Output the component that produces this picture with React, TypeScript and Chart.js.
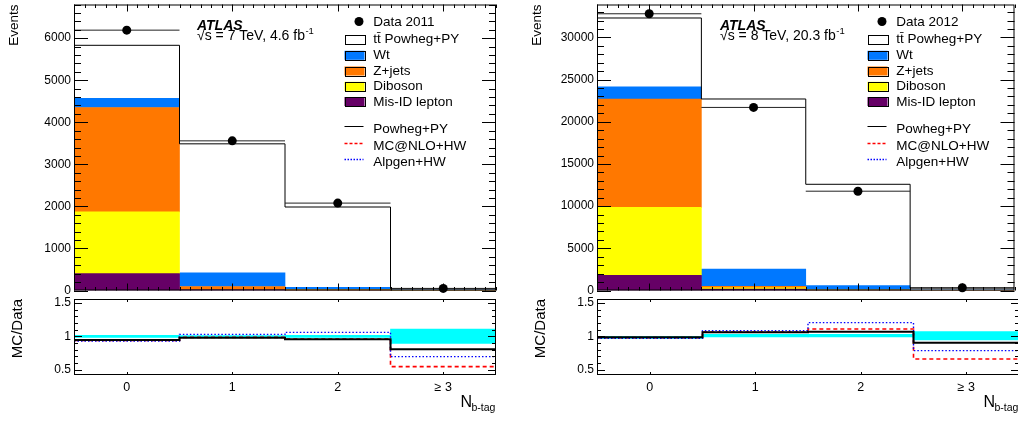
import React, { useEffect, useRef } from 'react';
import { Chart, registerables } from 'chart.js';

Chart.register(...registerables);

const FONT = "'Liberation Sans', Arial, Helvetica, sans-serif";

const binCenters = [0, 1, 2, 3];
const binLabels = ['0', '1', '2', '\u2265 3'];

// 2011, sqrt(s) = 7 TeV
const data2011 = [6190, 3558, 2078, 50];
const ttbar2011 = [1260, 3069, 1907, 31];
const wt2011 = [220, 323, 58, 6];
const zjets2011 = [2480, 65, 10, 1];
const diboson2011 = [1470, 10, 5, 1];
const misid2011 = [400, 20, 5, 1];
const powheg2011 = [0.945, 0.98, 0.955, 0.805];
const mcnlo2011 = [0.94, 0.985, 0.96, 0.545];
const alpgen2011 = [0.93, 1.03, 1.06, 0.695];
const bandLow2011 = [0.985, 0.99, 0.985, 0.895];
const bandHigh2011 = [1.015, 1.01, 1.015, 1.11];
const yTicks2011 = [0, 1000, 2000, 3000, 4000, 5000, 6000];

// 2012, sqrt(s) = 8 TeV
const data2012 = [32800, 21700, 11770, 320];
const ttbar2012 = [8170, 20150, 12000, 250];
const wt2012 = [1450, 2070, 510, 30];
const zjets2012 = [12830, 150, 30, 5];
const diboson2012 = [8050, 150, 20, 2];
const misid2012 = [1800, 180, 30, 3];
const powheg2012 = [0.985, 1.06, 1.07, 0.905];
const mcnlo2012 = [0.98, 1.065, 1.11, 0.66];
const alpgen2012 = [0.97, 1.085, 1.205, 0.785];
const bandLow2012 = [0.97, 0.99, 0.99, 0.945];
const bandHigh2012 = [1.0, 1.03, 1.03, 1.07];
const yTicks2012 = [0, 5000, 10000, 15000, 20000, 25000, 30000];

const ratioTicks = [0.5, 1, 1.5];

const COLORS = {
  ttbar: '#ffffff',
  wt: '#0078ff',
  zjets: '#ff7800',
  diboson: '#ffff00',
  misid: '#660066',
  band: '#00ffff',
};

type Panel = {
  data: number[];
  layers: { name: string; color: string; values: number[] }[];
  powheg: number[];
  mcnlo: number[];
  alpgen: number[];
  bandLow: number[];
  bandHigh: number[];
  yTicks: number[];
  yMax: number;
  yMajor: number;
  yMinor: number;
  dataLabel: string;
  energy: string;
  lumi: string;
};

const panels: Panel[] = [
  {
    data: data2011,
    layers: [
      { name: 'misid', color: COLORS.misid, values: misid2011 },
      { name: 'diboson', color: COLORS.diboson, values: diboson2011 },
      { name: 'zjets', color: COLORS.zjets, values: zjets2011 },
      { name: 'wt', color: COLORS.wt, values: wt2011 },
      { name: 'ttbar', color: COLORS.ttbar, values: ttbar2011 },
    ],
    powheg: powheg2011, mcnlo: mcnlo2011, alpgen: alpgen2011,
    bandLow: bandLow2011, bandHigh: bandHigh2011,
    yTicks: yTicks2011, yMax: 6800, yMajor: 1000, yMinor: 200,
    dataLabel: 'Data 2011', energy: '7', lumi: '4.6',
  },
  {
    data: data2012,
    layers: [
      { name: 'misid', color: COLORS.misid, values: misid2012 },
      { name: 'diboson', color: COLORS.diboson, values: diboson2012 },
      { name: 'zjets', color: COLORS.zjets, values: zjets2012 },
      { name: 'wt', color: COLORS.wt, values: wt2012 },
      { name: 'ttbar', color: COLORS.ttbar, values: ttbar2012 },
    ],
    powheg: powheg2012, mcnlo: mcnlo2012, alpgen: alpgen2012,
    bandLow: bandLow2012, bandHigh: bandHigh2012,
    yTicks: yTicks2012, yMax: 33900, yMajor: 5000, yMinor: 1000,
    dataLabel: 'Data 2012', energy: '8', lumi: '20.3',
  },
];

function stepPoints(vals: number[]) {
  const pts = binCenters.map((c, i) => ({ x: c - 0.5, y: vals[i] }));
  pts.push({ x: binCenters[binCenters.length - 1] + 0.5, y: vals[vals.length - 1] });
  return pts;
}

function xBarPoints(vals: number[]) {
  const pts: { x: number; y: number | null }[] = [];
  vals.forEach((v, i) => {
    pts.push({ x: binCenters[i] - 0.5, y: v }, { x: binCenters[i] + 0.5, y: v }, { x: binCenters[i] + 0.5, y: null });
  });
  return pts;
}

function drawFrame(ctx: CanvasRenderingContext2D, a: any) {
  ctx.strokeRect(a.left + 0.5, a.top + 0.5, a.right - a.left - 1, a.bottom - a.top - 1);
}

function mainDecor(p: Panel) {
  return {
    id: 'mainDecor',
    afterDatasetsDraw(chart: any) {
      const { ctx, chartArea: a } = chart;
      const xs = chart.scales.x;
      const ys = chart.scales.y;
      ctx.save();
      ctx.strokeStyle = '#000';
      ctx.lineWidth = 1;
      ctx.beginPath();
      const nMinor = Math.floor(p.yMax / p.yMinor);
      for (let k = 0; k <= nMinor; k++) {
        const v = k * p.yMinor;
        const y = Math.round(ys.getPixelForValue(v)) + 0.5;
        const major = (v % p.yMajor) === 0;
        const len = major ? 14 : 7;
        ctx.moveTo(a.left, y); ctx.lineTo(a.left + len, y);
        ctx.moveTo(a.right, y); ctx.lineTo(a.right - len, y);
      }
      for (let k = -5; k <= 35; k++) {
        const x = Math.round(xs.getPixelForValue(k / 10)) + 0.5;
        const major = k % 10 === 0;
        const len = major ? 7 : 3.5;
        ctx.moveTo(x, a.bottom); ctx.lineTo(x, a.bottom - len);
        ctx.moveTo(x, a.top); ctx.lineTo(x, a.top + len);
      }
      ctx.stroke();
      drawFrame(ctx, a);
      ctx.restore();
    },
    afterDraw(chart: any) {
      const { ctx, chartArea: a } = chart;
      const L = a.left;
      ctx.save();
      ctx.fillStyle = '#000';
      ctx.strokeStyle = '#000';
      ctx.textAlign = 'left';
      ctx.textBaseline = 'alphabetic';
      // ATLAS label
      ctx.font = `italic bold 14px ${FONT}`;
      ctx.fillText('ATLAS', L + 123, 29.5);
      ctx.font = `14px ${FONT}`;
      const t = `\u221As = ${p.energy} TeV, ${p.lumi} fb`;
      ctx.fillText(t, L + 123, 39.5);
      const w = ctx.measureText(t).width;
      ctx.font = `9.5px ${FONT}`;
      ctx.fillText('-1', L + 123 + w + 0.5, 34);
      // legend
      ctx.font = `13.5px ${FONT}`;
      const tx = L + 299.3;
      const bx = L + 270.5;
      ctx.beginPath();
      ctx.arc(L + 285, 21.5, 4.5, 0, Math.PI * 2);
      ctx.fill();
      ctx.fillText(p.dataLabel, tx, 26);
      const boxes: [string, string, number][] = [
        ['tt\u0304 Powheg+PY', COLORS.ttbar, 43],
        ['Wt', COLORS.wt, 59.3],
        ['Z+jets', COLORS.zjets, 75],
        ['Diboson', COLORS.diboson, 90.3],
        ['Mis-ID lepton', COLORS.misid, 105.5],
      ];
      ctx.lineWidth = 1;
      boxes.forEach(([label, color, base]) => {
        ctx.fillStyle = color;
        ctx.fillRect(bx, base - 8.5, 20, 9);
        ctx.strokeStyle = '#000';
        ctx.strokeRect(Math.round(bx) + 0.5, Math.round(base - 8.5) + 0.5, 20, 9);
        ctx.fillStyle = '#000';
        ctx.fillText(label, tx, base);
      });
      const lines: [string, string, number, number[], number][] = [
        ['Powheg+PY', '#000000', 133.3, [], 1],
        ['MC@NLO+HW', '#ff0000', 150, [3, 2], 1.6],
        ['Alpgen+HW', '#0000ff', 165.7, [1.5, 1.5], 1.5],
      ];
      lines.forEach(([label, color, base, dash, lw]) => {
        ctx.save();
        ctx.strokeStyle = color;
        ctx.lineWidth = lw;
        ctx.setLineDash(dash);
        ctx.beginPath();
        const y = Math.round(base - 7) + 0.5;
        ctx.moveTo(bx, y);
        ctx.lineTo(bx + 19, y);
        ctx.stroke();
        ctx.restore();
        ctx.fillStyle = '#000';
        ctx.fillText(label, tx, base);
      });
      ctx.restore();
    },
  };
}

function ratioDecor() {
  return {
    id: 'ratioDecor',
    afterDatasetsDraw(chart: any) {
      const { ctx, chartArea: a } = chart;
      const xs = chart.scales.x;
      const ys = chart.scales.y;
      ctx.save();
      ctx.strokeStyle = '#000';
      ctx.lineWidth = 1;
      ctx.beginPath();
      for (let k = 5; k <= 15; k++) {
        const y = Math.round(ys.getPixelForValue(k / 10)) + 0.5;
        const major = k % 5 === 0;
        const len = major ? 8 : 4;
        ctx.moveTo(a.left, y); ctx.lineTo(a.left + len, y);
        ctx.moveTo(a.right, y); ctx.lineTo(a.right - len, y);
      }
      binCenters.forEach((c) => {
        const x = Math.round(xs.getPixelForValue(c)) + 0.5;
        ctx.moveTo(x, a.bottom); ctx.lineTo(x, a.bottom - 3);
        ctx.moveTo(x, a.top); ctx.lineTo(x, a.top + 3);
      });
      ctx.stroke();
      drawFrame(ctx, a);
      ctx.restore();
    },
    afterDraw(chart: any) {
      const { ctx, chartArea: a } = chart;
      ctx.save();
      ctx.fillStyle = '#000';
      ctx.textAlign = 'left';
      ctx.textBaseline = 'alphabetic';
      ctx.font = `16px ${FONT}`;
      ctx.fillText('N', a.right - 35.5, 111.5);
      ctx.font = `10.5px ${FONT}`;
      ctx.fillText('b-tag', a.right - 24.5, 116);
      ctx.restore();
    },
  };
}

function binTicks(s: any) {
  s.ticks = binCenters.map((v) => ({ value: v }));
}

function makeMain(canvas: HTMLCanvasElement, p: Panel, padRight: number) {
  let running = p.data.map(() => 0);
  const barSets = p.layers.map((layer) => {
    const lo = running.slice();
    running = running.map((r, i) => r + layer.values[i]);
    const hi = running.slice();
    return {
      type: 'bar' as const,
      label: layer.name,
      data: binCenters.map((c, i) => ({ x: c, y: [lo[i], hi[i]] })),
      backgroundColor: layer.color,
      borderWidth: 0,
      grouped: false,
      barPercentage: 1,
      categoryPercentage: 1,
      order: 10,
    };
  });
  const total = running;
  return new Chart(canvas, {
    type: 'bar',
    data: {
      datasets: [
        ...barSets,
        {
          type: 'line', label: 'mc', data: stepPoints(total), stepped: 'before',
          borderColor: '#000', borderWidth: 1, pointRadius: 0, fill: false, order: 5,
        },
        {
          type: 'line', label: 'dataErr', data: xBarPoints(p.data), spanGaps: false,
          borderColor: '#222', borderWidth: 1, pointRadius: 0, fill: false, order: 2,
        },
        {
          type: 'line', label: 'data', data: p.data.map((y, i) => ({ x: binCenters[i], y })),
          showLine: false, pointRadius: 4.5, pointBackgroundColor: '#000', pointBorderWidth: 0,
          clip: false, order: 1,
        },
      ] as any,
    },
    options: {
      responsive: false,
      animation: false,
      devicePixelRatio: 1,
      events: [],
      layout: { padding: { left: 0, right: padRight, top: 3, bottom: 4 } },
      plugins: { legend: { display: false }, tooltip: { enabled: false } },
      scales: {
        x: {
          type: 'linear', min: -0.5, max: 3.5, offset: false, display: false,
          afterBuildTicks: binTicks,
        },
        y: {
          type: 'linear', min: 0, max: p.yMax,
          grid: { display: false, drawTicks: false },
          border: { display: false },
          ticks: {
            color: '#000', font: { family: FONT, size: 12 }, padding: 3,
            callback: (v: any) => String(v),
          },
          afterBuildTicks: (s: any) => { s.ticks = p.yTicks.map((v) => ({ value: v })); },
          afterFit: (s: any) => { s.width = 74; s.paddingTop = 0; s.paddingBottom = 0; },
          title: {
            display: true, text: 'Events', align: 'end', color: '#000',
            font: { family: FONT, size: 13.5 }, padding: { top: 6.5, bottom: 0 },
          },
        },
      },
    } as any,
    plugins: [mainDecor(p)],
  });
}

function makeRatio(canvas: HTMLCanvasElement, p: Panel, padRight: number) {
  return new Chart(canvas, {
    type: 'bar',
    data: {
      datasets: [
        {
          type: 'bar', label: 'band',
          data: binCenters.map((c, i) => ({ x: c, y: [p.bandLow[i], p.bandHigh[i]] })),
          backgroundColor: COLORS.band, borderWidth: 0, grouped: false,
          barPercentage: 1, categoryPercentage: 1, order: 10,
        },
        {
          type: 'line', label: 'MC@NLO+HW', data: stepPoints(p.mcnlo), stepped: 'before',
          borderColor: '#ff0000', borderWidth: 1.6, borderDash: [4, 3], pointRadius: 0, fill: false, order: 4,
        },
        {
          type: 'line', label: 'Alpgen+HW', data: stepPoints(p.alpgen), stepped: 'before',
          borderColor: '#0000ff', borderWidth: 1.4, borderDash: [1.5, 2], pointRadius: 0, fill: false, order: 3,
        },
        {
          type: 'line', label: 'Powheg+PY', data: stepPoints(p.powheg), stepped: 'before',
          borderColor: '#000', borderWidth: 2, pointRadius: 0, fill: false, order: 1,
        },
      ] as any,
    },
    options: {
      responsive: false,
      animation: false,
      devicePixelRatio: 1,
      events: [],
      layout: { padding: { left: 0, right: padRight, top: 4, bottom: 0 } },
      plugins: { legend: { display: false }, tooltip: { enabled: false } },
      scales: {
        x: {
          type: 'linear', min: -0.5, max: 3.5, offset: false,
          grid: { display: false, drawTicks: false },
          border: { display: false },
          ticks: {
            color: '#000', font: { family: FONT, size: 12.5 }, padding: 5,
            autoSkip: false, maxRotation: 0,
            callback: (_v: any, i: number) => binLabels[i],
          },
          afterBuildTicks: binTicks,
          afterFit: (s: any) => { s.height = 46; s.paddingLeft = 0; s.paddingRight = 0; },
        },
        y: {
          type: 'linear', min: 0.42, max: 1.56,
          grid: { display: false, drawTicks: false },
          border: { display: false },
          ticks: {
            color: '#000', font: { family: FONT, size: 12 }, padding: 3,
            callback: (v: any) => String(v),
          },
          afterBuildTicks: (s: any) => { s.ticks = ratioTicks.map((v) => ({ value: v })); },
          afterFit: (s: any) => { s.width = 74; s.paddingTop = 0; s.paddingBottom = 0; },
          title: {
            display: true, text: 'MC/Data', align: 'end', color: '#000',
            font: { family: FONT, size: 15 }, padding: { top: 8.8, bottom: 0 },
          },
        },
      },
    } as any,
    plugins: [ratioDecor()],
  });
}

export default function App() {
  const mainL = useRef<HTMLCanvasElement>(null);
  const ratioL = useRef<HTMLCanvasElement>(null);
  const mainR = useRef<HTMLCanvasElement>(null);
  const ratioR = useRef<HTMLCanvasElement>(null);

  useEffect(() => {
    const charts = [
      makeMain(mainL.current!, panels[0], 13),
      makeRatio(ratioL.current!, panels[0], 13),
      makeMain(mainR.current!, panels[1], 0),
      makeRatio(ratioR.current!, panels[1], 0),
    ];
    return () => charts.forEach((c) => c.destroy());
  }, []);

  const pos = (left: number, top: number): React.CSSProperties => ({
    position: 'absolute', left, top, display: 'block',
  });

  return (
    <div style={{ position: 'absolute', left: 0, top: 0, width: 1018, height: 421, overflow: 'hidden', background: '#fff' }}>
      <canvas ref={mainL} width={509} height={295} style={pos(0, 0)} />
      <canvas ref={ratioL} width={509} height={126} style={pos(0, 295)} />
      <canvas ref={mainR} width={496} height={295} style={pos(523, 0)} />
      <canvas ref={ratioR} width={496} height={126} style={pos(523, 295)} />
    </div>
  );
}
